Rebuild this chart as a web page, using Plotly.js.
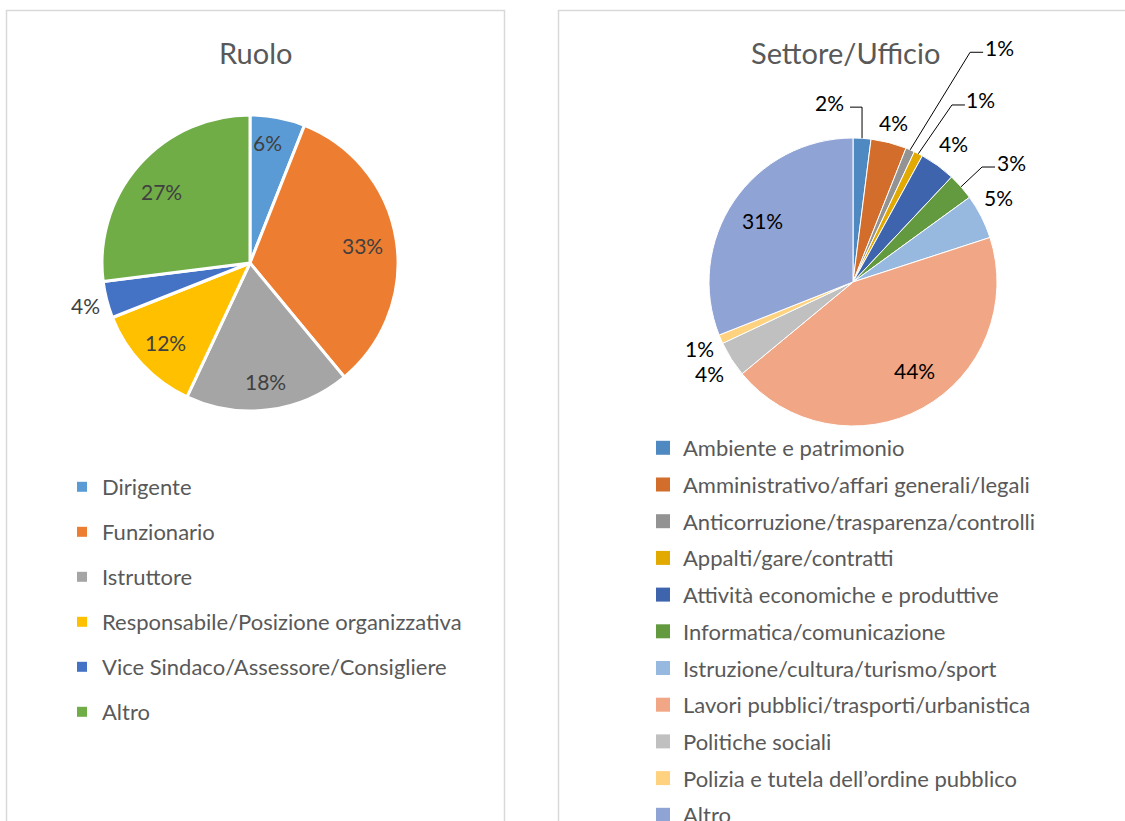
<!DOCTYPE html>
<html><head><meta charset="utf-8">
<script src="https://cdn.plot.ly/plotly-3.0.1.min.js"></script>
<style>html,body{margin:0;padding:0;background:#fff}#chart{width:1125px;height:821px}</style>
</head><body><div id="chart"></div>
<script>
// ---- data ----
const ruoloTitle = 'Ruolo';
const ruoloLabels = ['Dirigente','Funzionario','Istruttore','Responsabile/Posizione organizzativa','Vice Sindaco/Assessore/Consigliere','Altro'];
const ruoloValues = [6,33,18,12,4,27];
const ruoloColors = ['#5B9BD5','#ED7D31','#A5A5A5','#FFC000','#4472C4','#70AD47'];

const settoreTitle = 'Settore/Ufficio';
const settoreLabels = ['Ambiente e patrimonio','Amministrativo/affari generali/legali','Anticorruzione/trasparenza/controlli','Appalti/gare/contratti','Attività economiche e produttive','Informatica/comunicazione','Istruzione/cultura/turismo/sport','Lavori pubblici/trasporti/urbanistica','Politiche sociali','Polizia e tutela dell’ordine pubblico','Altro'];
const settoreValues = [2,4,1,1,4,3,5,44,4,1,31];
const settoreColors = ['#4E8AC1','#D36D2B','#939393','#E2AA00','#3E64AD','#639A3F','#97B9E0','#F1A785','#C0C0C0','#FFD27F','#8FA3D5'];

// ---- layout geometry (pixels) ----
const W = 1125, H = 821;
const FONT = 'Lato, "Open Sans", sans-serif';
const px = x => x / W;
const py = y => 1 - y / H;
const pieL = {cx: 250, cy: 263, r: 148};
const pieR = {cx: 853, cy: 282, r: 144};
// label placement: k = radius factor, a = angle override (deg, clockwise from top)
const ruoloLabelPos = [{k:0.82,a:8.5},{k:0.77},{k:0.81},{k:0.78},{k:1.15},{k:0.77,a:309}];
const settoreLabelPos = [
  {k:1.26,a:352.4,leader:'left'},{k:1.14},{k:1.92,a:31.9,leader:'right'},{k:1.545,a:35.1,leader:'right'},
  {k:1.19},{k:1.378,a:52.8,leader:'right'},{k:1.17,a:60},{k:0.75,a:145},{k:1.18},{k:1.16},{k:0.76}
];

function domainOf(g) {
  return {x: [px(g.cx - g.r), px(g.cx + g.r)], y: [py(g.cy + g.r), py(g.cy - g.r)]};
}
function midAngles(values) {
  const tot = values.reduce((a, b) => a + b, 0);
  let c = 0;
  return values.map(v => { const m = (c + v / 2) / tot * 360; c += v; return m; });
}
function polar(g, ang, k) {
  const t = ang * Math.PI / 180;
  return [g.cx + k * g.r * Math.sin(t), g.cy - k * g.r * Math.cos(t)];
}

const annotations = [];
const shapes = [];

// titles
annotations.push({x: px(255), y: py(52), xref:'paper', yref:'paper', text: ruoloTitle, showarrow:false,
  font:{family:FONT, size:29, color:'#595959'}, xanchor:'center', yanchor:'middle'});
annotations.push({x: px(845), y: py(52), xref:'paper', yref:'paper', text: settoreTitle, showarrow:false,
  font:{family:FONT, size:29, color:'#595959'}, xanchor:'center', yanchor:'middle'});

function addLabels(g, values, cfg, color, size) {
  const mids = midAngles(values);
  values.forEach((v, i) => {
    const c = cfg[i];
    const ang = (c.a !== undefined) ? c.a : mids[i];
    const [lx, ly] = polar(g, ang, c.k);
    annotations.push({x: px(lx), y: py(ly), xref:'paper', yref:'paper', text: v + '%', showarrow:false,
      font:{family:FONT, size:size, color:color}, xanchor:'center', yanchor:'middle'});
    if (c.leader) {
      const [ex, ey] = polar(g, mids[i], 1);
      const half = 14, yl = ly + 5;
      let p;
      if (c.leader === 'left') {
        p = `M ${px(lx + half + 7)} ${py(yl)} L ${px(ex)} ${py(yl)} L ${px(ex)} ${py(ey)}`;
      } else {
        p = `M ${px(lx - half - 2)} ${py(yl)} L ${px(lx - half - 15)} ${py(yl)} L ${px(ex)} ${py(ey)}`;
      }
      shapes.push({type:'path', xref:'paper', yref:'paper', path:p, line:{color:'#000000', width:1}});
    }
  });
}
addLabels(pieL, ruoloValues, ruoloLabelPos, '#404040', 21);
addLabels(pieR, settoreValues, settoreLabelPos, '#000000', 21);

// panel borders
shapes.push({type:'rect', xref:'paper', yref:'paper', x0:px(6.5), x1:px(504.5), y0:py(830), y1:py(10.5),
  line:{color:'#D9D9D9', width:1.5}});
shapes.push({type:'rect', xref:'paper', yref:'paper', x0:px(558.5), x1:px(1135), y0:py(830), y1:py(10.5),
  line:{color:'#D9D9D9', width:1.5}});

const traces = [];
traces.push({type:'pie', labels: ruoloLabels, values: ruoloValues, sort:false, direction:'clockwise', rotation:0,
  marker:{colors: ruoloColors, line:{color:'#FFFFFF', width:3}}, textinfo:'none', showlegend:false,
  domain: domainOf(pieL), hoverinfo:'label+percent'});
traces.push({type:'pie', labels: settoreLabels, values: settoreValues, sort:false, direction:'clockwise', rotation:0,
  marker:{colors: settoreColors, line:{color:'#FFFFFF', width:1}}, textinfo:'none', showlegend:false,
  domain: domainOf(pieR), hoverinfo:'label+percent'});

// legend entries
ruoloLabels.forEach((l, i) => traces.push({type:'scatter', mode:'markers', x:[null], y:[null], name:l,
  legend:'legend', legendgroup:'r' + i, showlegend:true, hoverinfo:'skip',
  marker:{symbol:'square', size:10, color: ruoloColors[i]}}));
settoreLabels.forEach((l, i) => traces.push({type:'scatter', mode:'markers', x:[null], y:[null], name:l,
  legend:'legend2', legendgroup:'s' + i, showlegend:true, hoverinfo:'skip',
  marker:{symbol:'square', size:14, color: settoreColors[i]}}));

const layout = {
  width: W, height: H, margin:{l:0, r:0, t:0, b:0, autoexpand:false},
  paper_bgcolor:'#FFFFFF', plot_bgcolor:'#FFFFFF',
  xaxis:{visible:false}, yaxis:{visible:false},
  showlegend:true,
  legend:{x:px(62), y:py(466), xanchor:'left', yanchor:'top', traceorder:'grouped', tracegroupgap:13.4,
    font:{family:FONT, size:22, color:'#595959'}, bgcolor:'rgba(0,0,0,0)', borderwidth:0},
  legend2:{x:px(643), y:py(427), xanchor:'left', yanchor:'top', traceorder:'grouped', tracegroupgap:5.1,
    font:{family:FONT, size:22, color:'#595959'}, bgcolor:'rgba(0,0,0,0)', borderwidth:0},
  annotations: annotations,
  shapes: shapes
};
Plotly.newPlot('chart', traces, layout, {displayModeBar:false, responsive:false});
</script>
</body></html>
